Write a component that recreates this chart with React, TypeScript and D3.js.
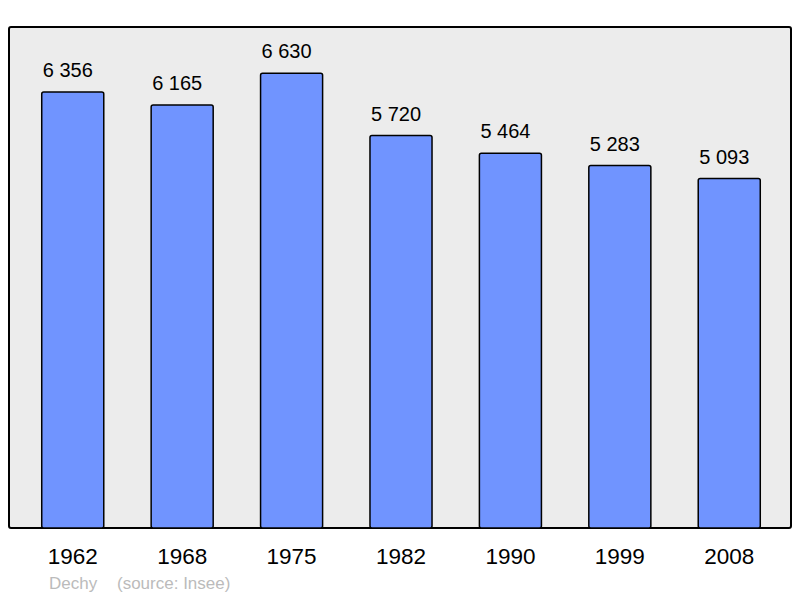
import React from 'react';
import * as d3 from 'd3';

const years = ['1962', '1968', '1975', '1982', '1990', '1999', '2008'];
const population = [6356, 6165, 6630, 5720, 5464, 5283, 5093];
const townName = 'Dechy';
const sourceText = '(source: Insee)';

const width = 800;
const height = 598;
const panel = { left: 9, top: 27, right: 791, bottom: 528 };

// "6356" -> "6 356"
const fmt = (v: number) => d3.format(',')(v).replace(/,/g, ' ');

const App: React.FC = () => {
  const x = d3.scaleBand<string>()
    .domain(years)
    .range([panel.left + 1, panel.right + 1])
    .paddingInner(0.433)
    .paddingOuter(0.29);

  const y = d3.scaleLinear()
    .domain([0, 7303])
    .range([panel.bottom, panel.top]);

  return (
    <svg
      width={width}
      height={height}
      style={{ position: 'absolute', left: 0, top: 0, fontFamily: '"Liberation Sans", Arial, sans-serif' }}
    >
      <rect width={width} height={height} fill="#ffffff" />
      <rect
        x={panel.left}
        y={panel.top}
        width={panel.right - panel.left}
        height={panel.bottom - panel.top}
        rx={2}
        fill="#ececec"
        stroke="#000"
        strokeWidth={2}
      />
      {years.map((yr, i) => {
        const v = population[i];
        const bx = x(yr) as number;
        const cx = bx + x.bandwidth() / 2;
        return (
          <g key={yr}>
            <rect
              x={bx}
              y={y(v)}
              width={x.bandwidth()}
              height={panel.bottom - y(v)}
              rx={2}
              fill="#7094ff"
              stroke="#000"
              strokeWidth={1.5}
            />
            {/* value labels sit a little left of the bar centre in the original */}
            <text x={cx - 5} y={y(v) - 15} textAnchor="middle" fontSize={20} fill="#000">
              {fmt(v)}
            </text>
            <text x={cx} y={564} textAnchor="middle" fontSize={22.5} fill="#000">
              {yr}
            </text>
          </g>
        );
      })}
      <text x={49} y={589} fontSize={17} fill="#bbbbbb">{townName}</text>
      <text x={117} y={589} fontSize={17} fill="#bbbbbb">{sourceText}</text>
    </svg>
  );
};

export default App;
